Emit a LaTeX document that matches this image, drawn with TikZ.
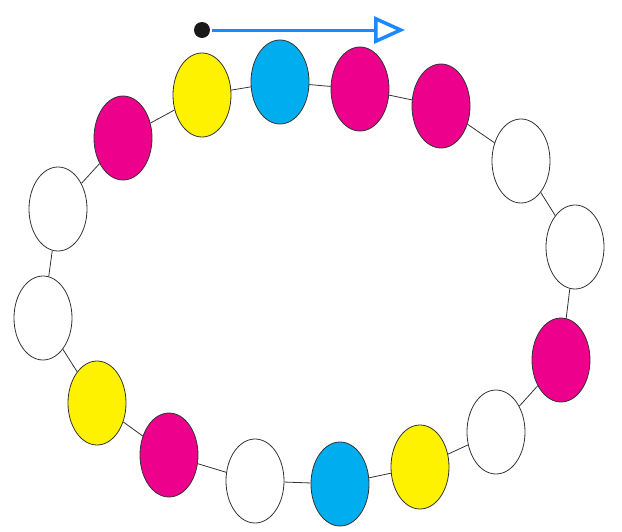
\documentclass[tikz,border=0pt]{standalone}
\usetikzlibrary{shapes.geometric, arrows.meta}
\definecolor{bmagenta}{HTML}{EC008C}
\definecolor{bcyan}{HTML}{00AEEF}
\definecolor{byellow}{HTML}{FFF200}
\definecolor{arrowblue}{HTML}{1E88FF}
\tikzset{
  bead/.style={draw=black!80, ellipse, inner sep=0pt, minimum width=58pt, minimum height=84pt, line width=0.8pt},
  link/.style={draw=black!80, line width=0.8pt}
}
\begin{document}
\begin{tikzpicture}[x=1pt, y=-1pt]
  \useasboundingbox (0,0) rectangle (622,531);
  % beads round the ring
  \node[bead, fill=byellow] (b1) at (202,95) {};
  \node[bead, fill=bcyan] (b2) at (280,82) {};
  \node[bead, fill=bmagenta] (b3) at (360,89) {};
  \node[bead, fill=bmagenta] (b4) at (441,106) {};
  \node[bead, fill=white] (b5) at (521,161) {};
  \node[bead, fill=white] (b6) at (575,247) {};
  \node[bead, fill=bmagenta] (b7) at (561,360) {};
  \node[bead, fill=white] (b8) at (496,432) {};
  \node[bead, fill=byellow] (b9) at (420,467) {};
  \node[bead, fill=bcyan] (b10) at (340,484) {};
  \node[bead, fill=white] (b11) at (255,481) {};
  \node[bead, fill=bmagenta] (b12) at (169,455) {};
  \node[bead, fill=byellow] (b13) at (97,403) {};
  \node[bead, fill=white] (b14) at (43,318) {};
  \node[bead, fill=white] (b15) at (58,209) {};
  \node[bead, fill=bmagenta] (b16) at (123,138) {};
  % links
  \draw[link] (b1) -- (b2);
  \draw[link] (b2) -- (b3);
  \draw[link] (b3) -- (b4);
  \draw[link] (b4) -- (b5);
  \draw[link] (b5) -- (b6);
  \draw[link] (b6) -- (b7);
  \draw[link] (b7) -- (b8);
  \draw[link] (b8) -- (b9);
  \draw[link] (b9) -- (b10);
  \draw[link] (b10) -- (b11);
  \draw[link] (b11) -- (b12);
  \draw[link] (b12) -- (b13);
  \draw[link] (b13) -- (b14);
  \draw[link] (b14) -- (b15);
  \draw[link] (b15) -- (b16);
  \draw[link] (b16) -- (b1);
  % direction arrow
  \node[circle, fill=black!90, inner sep=0pt, minimum size=16pt] (start) at (202,30) {};
  \coordinate (end) at (405,30);
  \draw[arrowblue, line width=3pt, shorten <=2pt, -{Triangle[open, length=31pt, width=27pt, line width=3.5pt]}] (start) -- (end);
\end{tikzpicture}
\end{document}
